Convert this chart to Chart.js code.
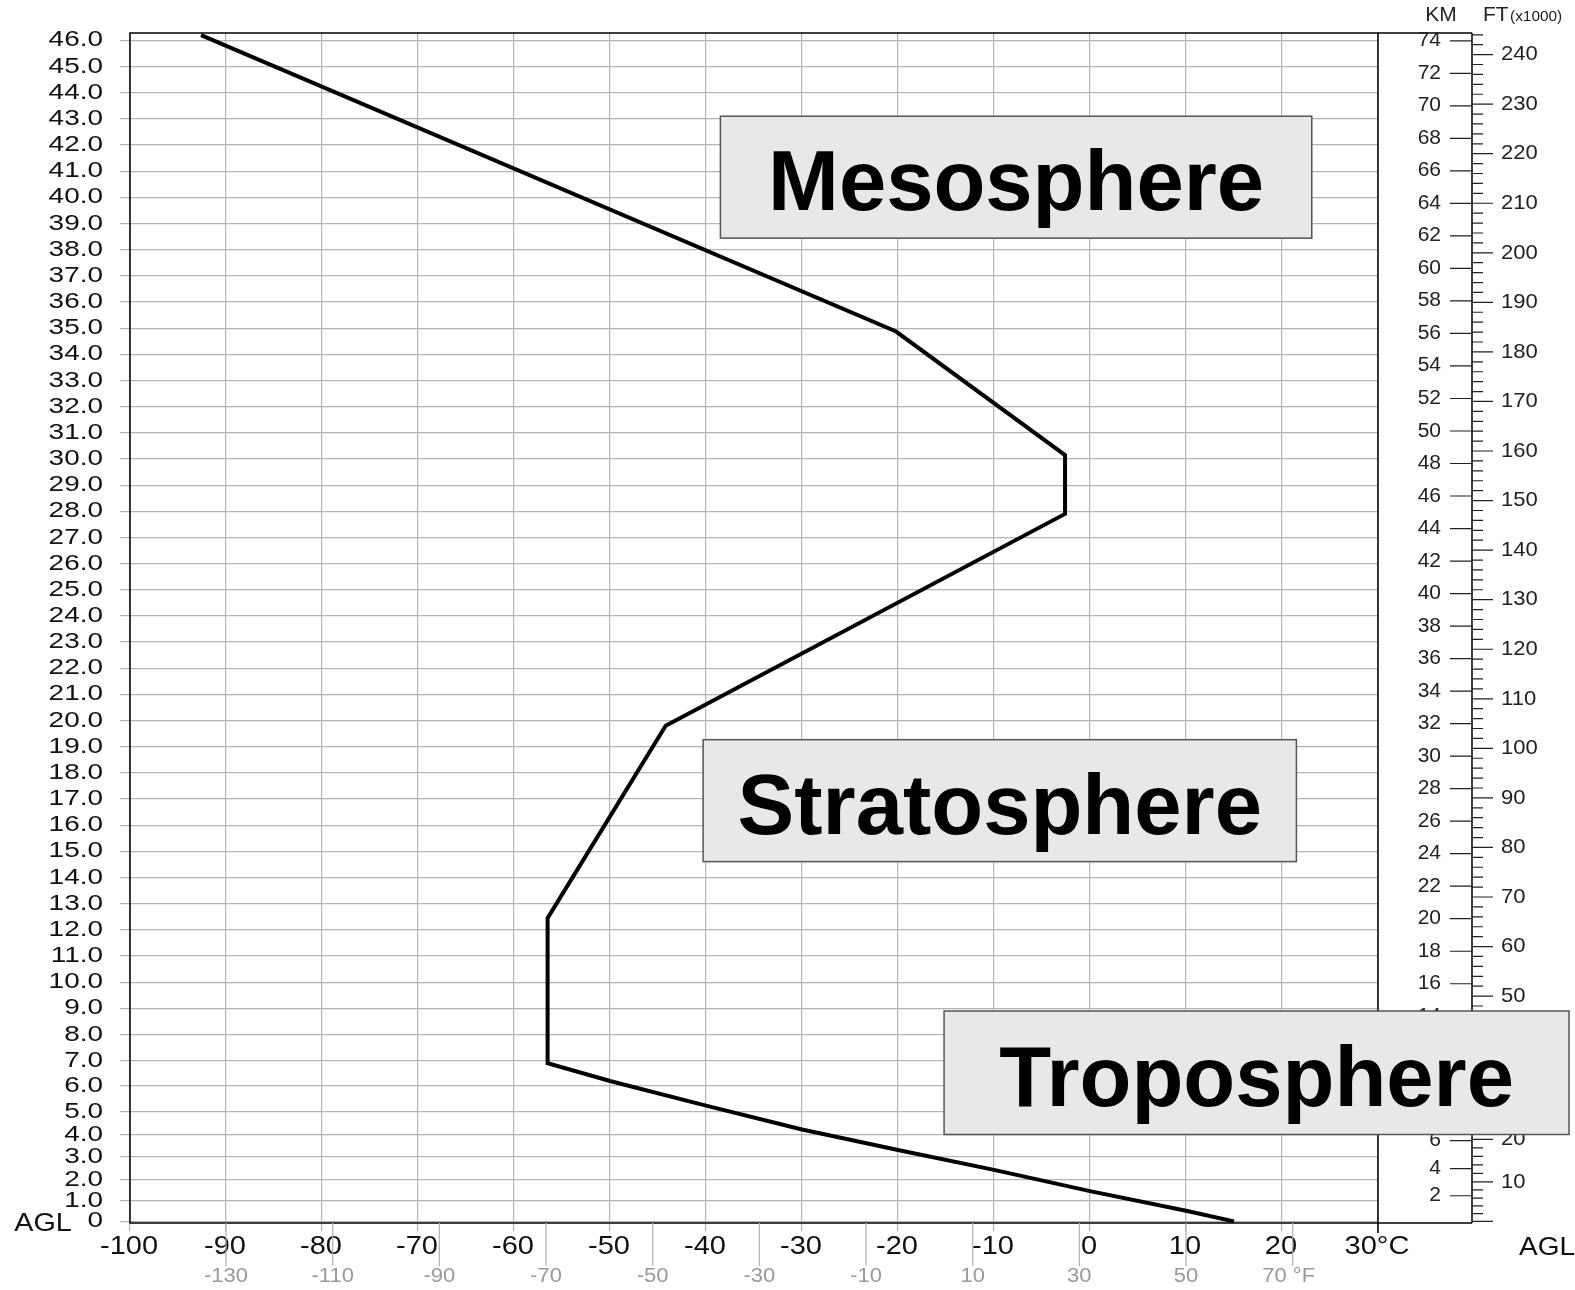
<!DOCTYPE html>
<html>
<head>
<meta charset="utf-8">
<script src="https://cdn.jsdelivr.net/npm/chart.js@4.4.1/dist/chart.umd.min.js"></script>
<style>
  html, body { margin: 0; padding: 0; background: #fff; }
  canvas { display: block; }
</style>
</head>
<body>
<canvas id="profile" width="1575" height="1290"></canvas>
<script>
// Temperature profile (°C) against altitude (miles)
const profileTempC = [15, 10, 0, -10, -20, -30, -40, -50, -56.5, -56.5, -44.2, -2.6, -2.6, -20.2, -92.6];
const profileAltMi = [0, 0.52, 1.46, 2.43, 3.31, 4.22, 5.23, 6.2, 6.9, 12.45, 19.8, 27.9, 30.15, 34.87, 46.2];

const altTicks = [0, 1, 2, 3, 4, 5, 6, 7, 8, 9, 10, 11, 12, 13, 14, 15, 16, 17, 18, 19, 20, 21, 22, 23,
  24, 25, 26, 27, 28, 29, 30, 31, 32, 33, 34, 35, 36, 37, 38, 39, 40, 41, 42, 43, 44, 45, 46];
const celsiusTicks = [-100, -90, -80, -70, -60, -50, -40, -30, -20, -10, 0, 10, 20, 30];
const fahrenheitTicks = [-130, -110, -90, -70, -50, -30, -10, 10, 30, 50, 70];
const kmTicks = [2, 4, 6, 8, 10, 12, 14, 16, 18, 20, 22, 24, 26, 28, 30, 32, 34, 36,
  38, 40, 42, 44, 46, 48, 50, 52, 54, 56, 58, 60, 62, 64, 66, 68, 70, 72, 74];
const feetTicks = [10, 20, 30, 40, 50, 60, 70, 80, 90, 100, 110, 120, 130, 140, 150, 160, 170, 180,
  190, 200, 210, 220, 230, 240];
const layerNames = ['Mesosphere', 'Stratosphere', 'Troposphere'];

const KM_PER_MILE = 1.609344;
const FONT = "'Liberation Sans', Arial, sans-serif";

// the altitude axis is squeezed near the ground: height of each of the first miles
// relative to a normal mile higher up
const lowMileWeights = [0.78, 0.82, 0.86, 0.86, 0.88, 0.97, 0.97, 1.0, 1.0];

function warp(v) {
  if (v <= 0) return v * lowMileWeights[0];
  let acc = 0;
  for (let i = 0; i < lowMileWeights.length; i++) {
    if (v <= i + 1) return acc + (v - i) * lowMileWeights[i];
    acc += lowMileWeights[i];
  }
  return acc + (v - lowMileWeights.length);
}

function unwarp(w) {
  if (w <= 0) return w / lowMileWeights[0];
  let acc = 0;
  for (let i = 0; i < lowMileWeights.length; i++) {
    if (w <= acc + lowMileWeights[i]) return i + (w - acc) / lowMileWeights[i];
    acc += lowMileWeights[i];
  }
  return lowMileWeights.length + (w - acc);
}

class WarpedScale extends Chart.LinearScale {
  static id = 'warped';
  static defaults = Chart.LinearScale.defaults;

  getPixelForValue(value) {
    if (value === null || value === undefined || isNaN(value)) return NaN;
    const a = warp(this.min), b = warp(this.max);
    return this.getPixelForDecimal((warp(value) - a) / (b - a));
  }

  getValueForPixel(pixel) {
    const a = warp(this.min), b = warp(this.max);
    return unwarp(a + this.getDecimalForPixel(pixel) * (b - a));
  }
}
Chart.register(WarpedScale);

function drawText(ctx, text, x, y, font, color, align, stretch = 1, baseline = 'middle') {
  ctx.save();
  ctx.translate(x, y);
  ctx.scale(stretch, 1);
  ctx.font = font;
  ctx.fillStyle = color;
  ctx.textAlign = align;
  ctx.textBaseline = baseline;
  ctx.fillText(text, 0, 0);
  ctx.restore();
}

const toCelsius = (f) => (f - 32) * 5 / 9;

// layer boxes, in chart coordinates (°C, miles)
const layerBoxes = [
  { x0: -38.5, x1: 23.1, y0: 38.44, y1: 43.1 },
  { x0: -40.3, x1: 21.5, y0: 14.61, y1: 19.27 },
  { x0: -15.2, x1: 49.9, y0: 4.0, y1: 8.9 }
];

const framePlugin = {
  id: 'frame',
  afterDraw(chart) {
    const { ctx, chartArea: area } = chart;
    const xs = chart.scales.x, ys = chart.scales.y;
    const axisX = area.right + 94;

    ctx.save();
    ctx.strokeStyle = '#000';
    ctx.lineWidth = 1.5;
    ctx.strokeRect(area.left, area.top, area.right - area.left, area.bottom - area.top);
    ctx.beginPath();
    ctx.moveTo(area.right, area.top); ctx.lineTo(axisX, area.top);
    ctx.moveTo(area.right, area.bottom); ctx.lineTo(axisX, area.bottom);
    ctx.moveTo(axisX, area.top); ctx.lineTo(axisX, area.bottom);
    ctx.moveTo(area.right, area.bottom); ctx.lineTo(area.right, area.bottom + 10);
    ctx.stroke();

    // km scale, left of the side axis
    ctx.lineWidth = 1.2;
    ctx.strokeStyle = '#222';
    ctx.beginPath();
    kmTicks.forEach(km => {
      const y = ys.getPixelForValue(km / KM_PER_MILE);
      ctx.moveTo(axisX - 22, y); ctx.lineTo(axisX, y);
    });
    // feet scale, right of the side axis, minor tick every 2000 ft
    for (let kft = 0; kft <= 244; kft += 2) {
      const y = ys.getPixelForValue(kft * 0.3048 / KM_PER_MILE);
      ctx.moveTo(axisX, y); ctx.lineTo(axisX + (kft % 10 === 0 ? 21 : 11), y);
    }
    ctx.stroke();
    kmTicks.forEach(km => {
      drawText(ctx, String(km), axisX - 31, ys.getPixelForValue(km / KM_PER_MILE),
        `20px ${FONT}`, '#222', 'right', 1.05);
    });
    feetTicks.forEach(kft => {
      drawText(ctx, String(kft), axisX + 29, ys.getPixelForValue(kft * 0.3048 / KM_PER_MILE),
        `21px ${FONT}`, '#222', 'left', 1.05);
    });
    drawText(ctx, 'KM', axisX - 31, 21, `20px ${FONT}`, '#222', 'center', 1.05, 'alphabetic');
    drawText(ctx, 'FT', axisX + 11, 21, `20px ${FONT}`, '#222', 'left', 1.05, 'alphabetic');
    drawText(ctx, '(x1000)', axisX + 38, 21, `14px ${FONT}`, '#222', 'left', 1.1, 'alphabetic');
    drawText(ctx, 'AGL', 1547, 1248, `25px ${FONT}`, '#111', 'center', 1.12);

    // altitude labels (miles)
    altTicks.forEach(v => {
      drawText(ctx, v === 0 ? '0' : v.toFixed(1), area.left - 27, ys.getPixelForValue(v),
        `22px ${FONT}`, '#111', 'right', 1.27);
    });
    drawText(ctx, 'AGL', 43, 1224, `25px ${FONT}`, '#111', 'center', 1.15);

    // celsius labels
    celsiusTicks.forEach((v, i) => {
      const text = i === celsiusTicks.length - 1 ? `${v}°C` : String(v);
      drawText(ctx, text, xs.getPixelForValue(v) - 1, 1247, `25px ${FONT}`, '#111', 'center', 1.16);
    });

    // fahrenheit ticks and labels
    ctx.strokeStyle = '#b0b0b0';
    ctx.lineWidth = 1.2;
    ctx.beginPath();
    fahrenheitTicks.forEach(f => {
      const x = xs.getPixelForValue(toCelsius(f));
      ctx.moveTo(x, area.bottom); ctx.lineTo(x, area.bottom + 43);
    });
    ctx.stroke();
    fahrenheitTicks.forEach((f, i) => {
      const text = i === fahrenheitTicks.length - 1 ? `${f} °F` : String(f);
      drawText(ctx, text, xs.getPixelForValue(toCelsius(f)) + (i === fahrenheitTicks.length - 1 ? -4 : 0),
        1276, `20px ${FONT}`, '#9a9a9a', 'center', 1.1);
    });

    // atmosphere layer boxes
    layerBoxes.forEach((b, i) => {
      const x0 = xs.getPixelForValue(b.x0), x1 = xs.getPixelForValue(b.x1);
      const y0 = ys.getPixelForValue(b.y1), y1 = ys.getPixelForValue(b.y0);
      ctx.fillStyle = '#e8e8e8';
      ctx.fillRect(x0, y0, x1 - x0, y1 - y0);
      ctx.strokeStyle = '#555';
      ctx.lineWidth = 1.5;
      ctx.strokeRect(x0, y0, x1 - x0, y1 - y0);
      drawText(ctx, layerNames[i], (x0 + x1) / 2, (y0 + y1) / 2 + 33,
        `bold 85px ${FONT}`, '#000', 'center', 1, 'alphabetic');
    });
    ctx.restore();
  }
};

new Chart(document.getElementById('profile'), {
  type: 'line',
  data: {
    datasets: [{
      data: profileTempC.map((t, i) => ({ x: t, y: profileAltMi[i] })),
      borderColor: '#000',
      borderWidth: 4,
      pointRadius: 0,
      tension: 0,
      fill: false
    }]
  },
  options: {
    responsive: false,
    animation: false,
    devicePixelRatio: 1,
    layout: { padding: { top: 33, right: 197, left: 0, bottom: 0 } },
    plugins: { legend: { display: false }, tooltip: { enabled: false } },
    scales: {
      x: {
        type: 'linear',
        min: -100,
        max: 30,
        afterBuildTicks: (s) => { s.ticks = celsiusTicks.map(v => ({ value: v })); },
        afterFit: (s) => { s.height = 67; },
        ticks: { display: false },
        grid: { color: '#b4b4b4', lineWidth: 1.2, tickLength: 8 },
        border: { display: false }
      },
      y: {
        type: 'warped',
        min: -0.08,
        max: 46.28,
        afterBuildTicks: (s) => { s.ticks = altTicks.map(v => ({ value: v })); },
        afterFit: (s) => { s.width = 130; },
        ticks: { display: false },
        grid: { color: '#b4b4b4', lineWidth: 1.2, tickLength: 10 },
        border: { display: false }
      }
    }
  },
  plugins: [framePlugin]
});
</script>
</body>
</html>
